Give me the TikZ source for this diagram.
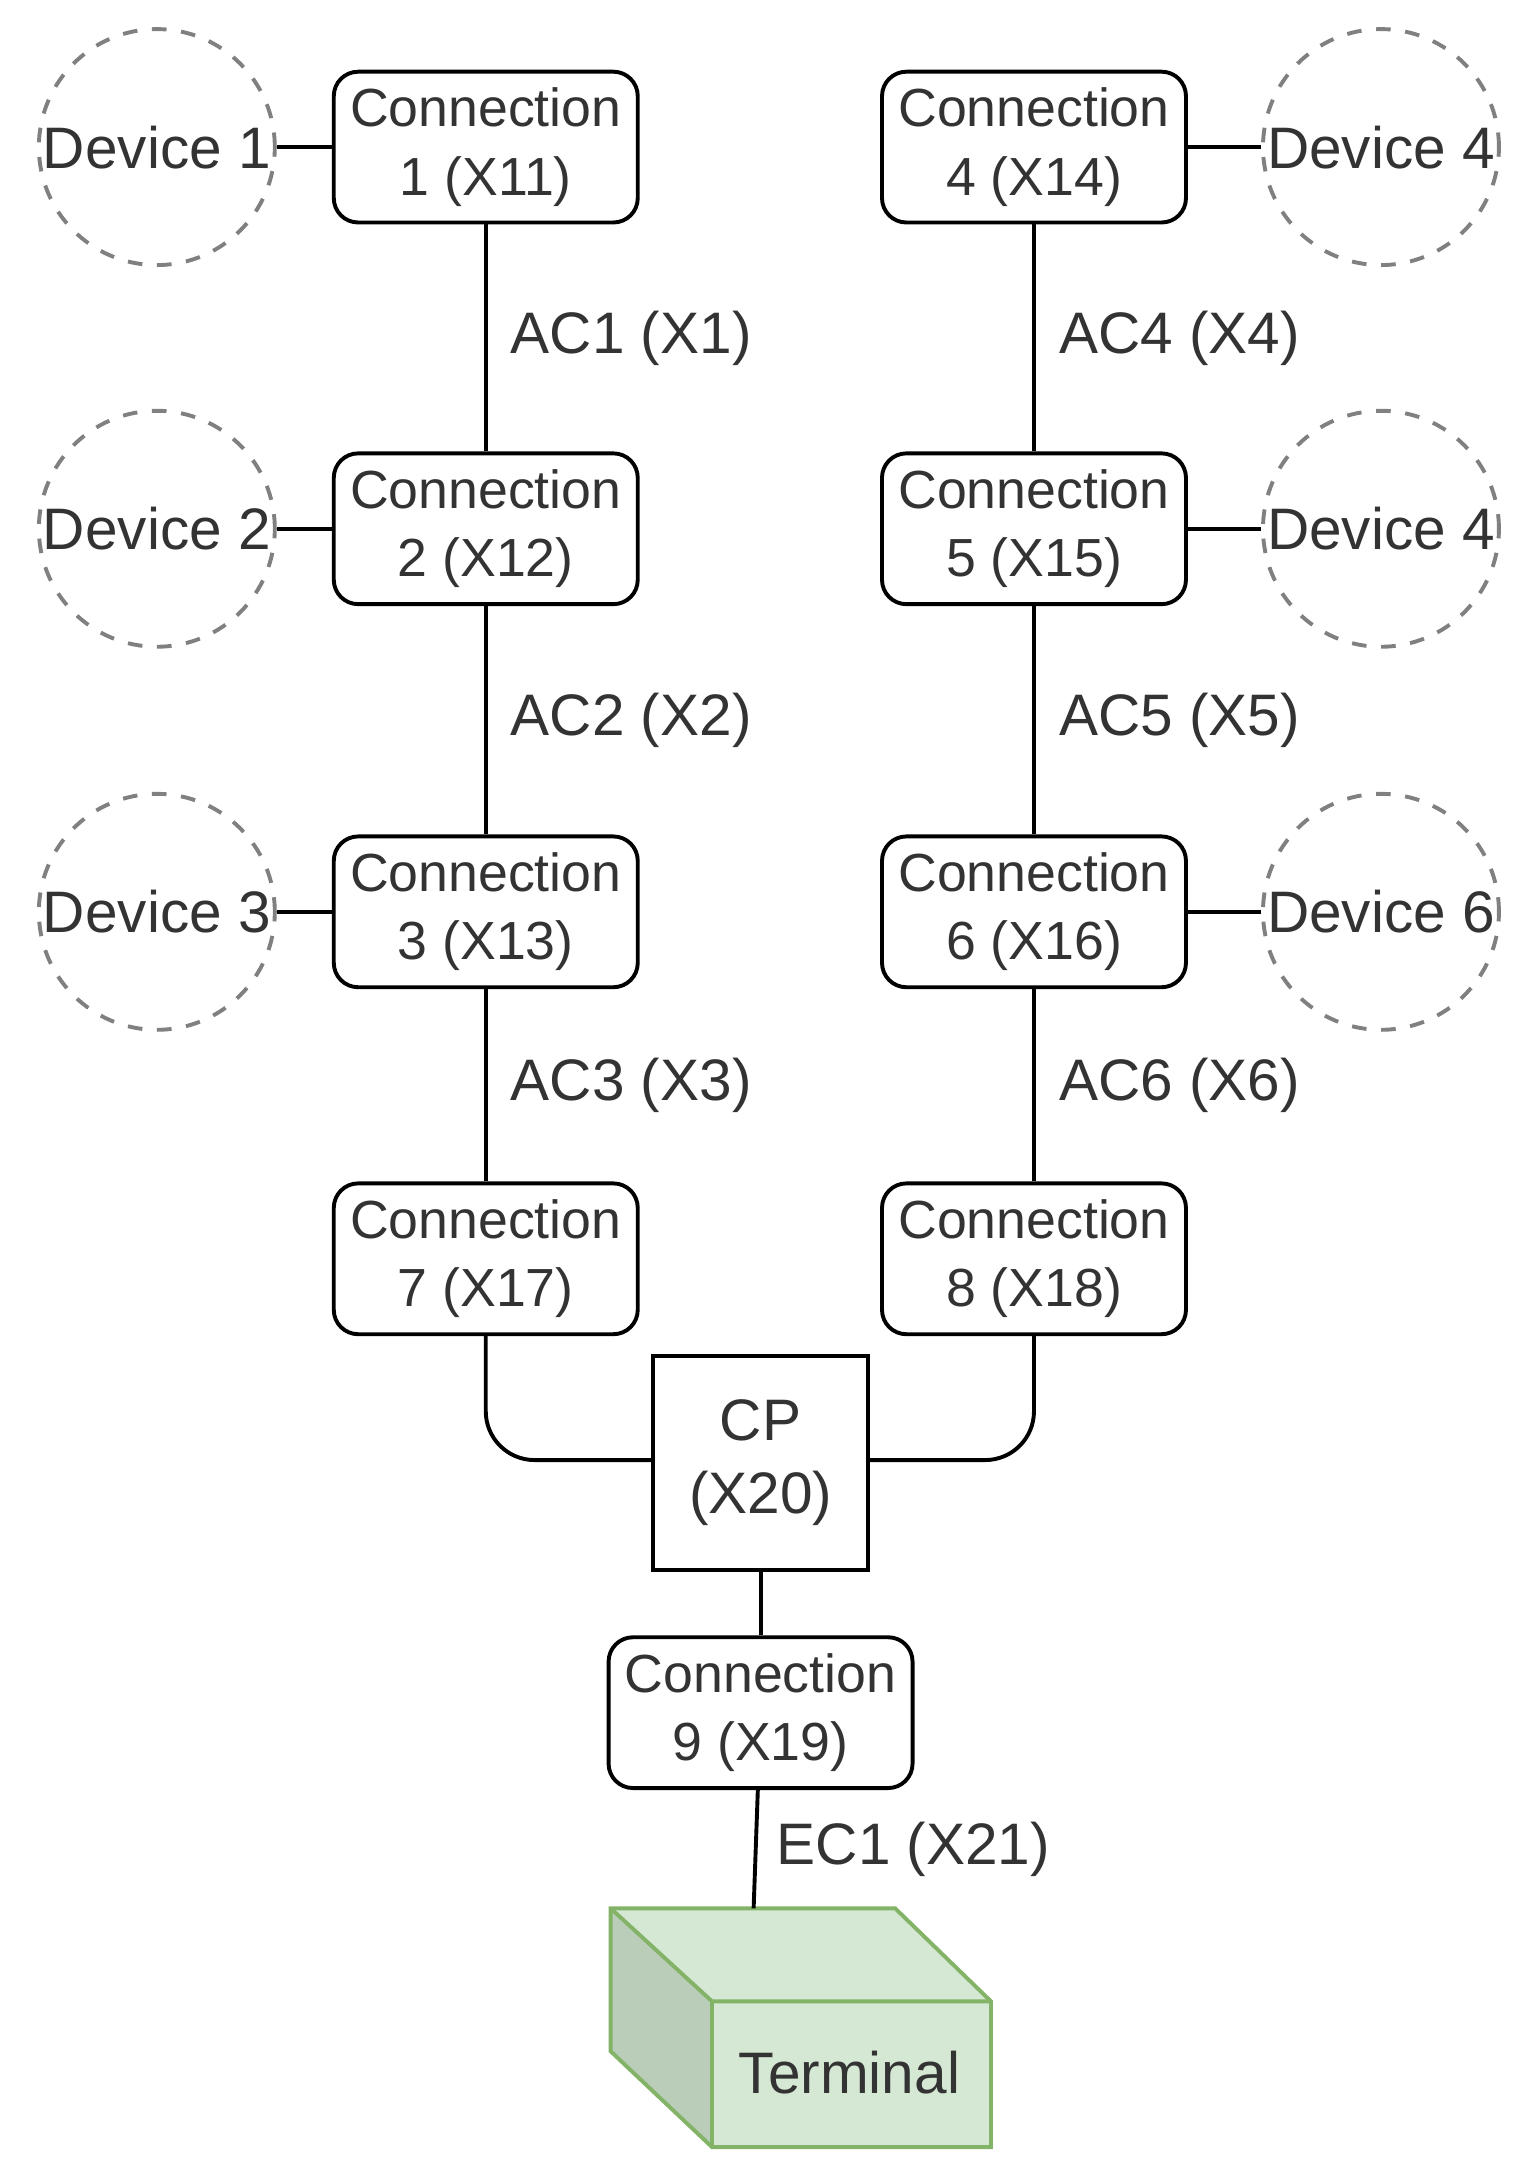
\documentclass[tikz,border=0pt]{standalone}
\usepackage{fontspec}
\setmainfont{Liberation Sans}
\usetikzlibrary{positioning}
\definecolor{txt}{HTML}{333333}
\definecolor{termfill}{HTML}{D5E8D4}
\definecolor{termside}{HTML}{B9CDB8}
\definecolor{termline}{HTML}{82B366}
\tikzset{conn/.style={draw,rounded corners=5pt,minimum width=2.05cm,minimum height=1.03cm,align=center,text=txt,font=\fontsize{11}{14}\selectfont,line width=0.8pt},
  dev/.style={draw=gray,dashed,circle,minimum size=1.7cm,inner sep=0pt,text=txt,font=\fontsize{12}{14}\selectfont,line width=0.8pt},
  lbl/.style={text=txt,font=\fontsize{12}{14}\selectfont}}
\begin{document}
\begin{tikzpicture}[line width=0.8pt]
  \useasboundingbox (0,0) rectangle (11,15.70);
  % left column
  \node[conn] (c1) at (3.50,14.64) {Connection\\1 (X11)};
  \node[conn] (c2) at (3.50,11.89) {Connection\\2 (X12)};
  \node[conn] (c3) at (3.50,9.13) {Connection\\3 (X13)};
  \node[conn] (c7) at (3.50,6.63) {Connection\\7 (X17)};
  % right column
  \node[conn] (c4) at (7.45,14.64) {Connection\\4 (X14)};
  \node[conn] (c5) at (7.45,11.89) {Connection\\5 (X15)};
  \node[conn] (c6) at (7.45,9.13) {Connection\\6 (X16)};
  \node[conn] (c8) at (7.45,6.63) {Connection\\8 (X18)};

  \node[dev] (d1) at (1.13,14.64) {Device 1};
  \node[dev] (d2) at (1.13,11.89) {Device 2};
  \node[dev] (d3) at (1.13,9.13) {Device 3};
  \node[dev] (d4) at (9.95,14.64) {Device 4};
  \node[dev] (d5) at (9.95,11.89) {Device 4};
  \node[dev] (d6) at (9.95,9.13) {Device 6};

  \node[draw,minimum width=1.55cm,minimum height=1.54cm,align=center,text=txt,font=\fontsize{12}{15}\selectfont] (cp) at (5.48,5.16) {CP\\(X20)};
  \node[conn] (c9) at (5.48,3.36) {Connection\\9 (X19)};

  \foreach \d/\c in {d1/c1,d2/c2,d3/c3,d4/c4,d5/c5,d6/c6}
    \draw (\d) -- (\c);

  \draw (c1) -- (c2) node[midway,right=0.05cm,lbl] {AC1 (X1)};
  \draw (c2) -- (c3) node[midway,right=0.05cm,lbl] {AC2 (X2)};
  \draw (c3) -- (c7) node[midway,right=0.05cm,lbl] {AC3 (X3)};
  \draw (c4) -- (c5) node[midway,right=0.05cm,lbl] {AC4 (X4)};
  \draw (c5) -- (c6) node[midway,right=0.05cm,lbl] {AC5 (X5)};
  \draw (c6) -- (c8) node[midway,right=0.05cm,lbl] {AC6 (X6)};

  \draw[rounded corners=10pt] (c7.south) |- (cp.west |- 0,5.18);
  \draw[rounded corners=10pt] (c8.south) |- (cp.east |- 0,5.18);
  \draw (cp) -- (c9);

  % terminal box
  \coordinate (t1) at (4.40,1.95);
  \coordinate (t2) at (6.45,1.95);
  \coordinate (t3) at (7.14,1.28);
  \coordinate (t4) at (7.14,0.23);
  \coordinate (t5) at (5.13,0.23);
  \coordinate (t6) at (4.40,0.92);
  \coordinate (t7) at (5.13,1.28);
  \fill[termfill] (t1) -- (t2) -- (t3) -- (t4) -- (t5) -- (t6) -- cycle;
  \fill[termside] (t1) -- (t7) -- (t5) -- (t6) -- cycle;
  \draw[termline] (t1) -- (t2) -- (t3) -- (t4) -- (t5) -- (t6) -- cycle;
  \draw[termline] (t1) -- (t7) -- (t3) (t7) -- (t5);
  \node[lbl] (term) at (6.12,0.77) {Terminal};
  \coordinate (ttop) at (5.43,1.95);
  \draw (c9) -- (ttop) node[midway,right=0.02cm,lbl] {EC1 (X21)};
\end{tikzpicture}
\end{document}
